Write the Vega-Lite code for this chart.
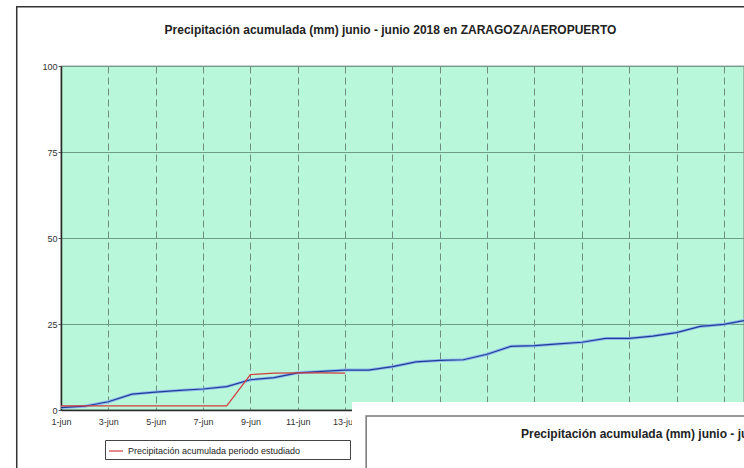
{
  "$schema": "https://vega.github.io/schema/vega-lite/v6.json",
  "width": 683,
  "height": 344,
  "autosize": {"type": "none"},
  "padding": {"left": 61, "top": 66, "right": 0, "bottom": 58},
  "background": "white",
  "config": {
    "font": "Liberation Sans",
    "view": {"fill": "#b8f7d9", "stroke": "#4a4a4a", "strokeWidth": 1.2}
  },
  "title": {
    "text": "Precipitación acumulada (mm) junio - junio 2018 en ZARAGOZA/AEROPUERTO",
    "font": "Liberation Sans",
    "fontSize": 12,
    "fontWeight": "bold",
    "color": "#222222",
    "anchor": "middle",
    "frame": "group",
    "dx": -12,
    "dy": 13,
    "baseline": "alphabetic",
    "offset": -27
  },
  "datasets": {
    "serie": [
      {"day": 1, "value": 0.7, "serie": "media"},
      {"day": 2, "value": 1.1, "serie": "media"},
      {"day": 3, "value": 2.4, "serie": "media"},
      {"day": 4, "value": 4.6, "serie": "media"},
      {"day": 5, "value": 5.2, "serie": "media"},
      {"day": 6, "value": 5.7, "serie": "media"},
      {"day": 7, "value": 6.1, "serie": "media"},
      {"day": 8, "value": 6.8, "serie": "media"},
      {"day": 9, "value": 8.8, "serie": "media"},
      {"day": 10, "value": 9.4, "serie": "media"},
      {"day": 11, "value": 10.8, "serie": "media"},
      {"day": 12, "value": 11.2, "serie": "media"},
      {"day": 13, "value": 11.6, "serie": "media"},
      {"day": 14, "value": 11.6, "serie": "media"},
      {"day": 15, "value": 12.6, "serie": "media"},
      {"day": 16, "value": 14.0, "serie": "media"},
      {"day": 17, "value": 14.4, "serie": "media"},
      {"day": 18, "value": 14.6, "serie": "media"},
      {"day": 19, "value": 16.2, "serie": "media"},
      {"day": 20, "value": 18.5, "serie": "media"},
      {"day": 21, "value": 18.7, "serie": "media"},
      {"day": 22, "value": 19.2, "serie": "media"},
      {"day": 23, "value": 19.7, "serie": "media"},
      {"day": 24, "value": 20.8, "serie": "media"},
      {"day": 25, "value": 20.8, "serie": "media"},
      {"day": 26, "value": 21.5, "serie": "media"},
      {"day": 27, "value": 22.5, "serie": "media"},
      {"day": 28, "value": 24.3, "serie": "media"},
      {"day": 29, "value": 24.9, "serie": "media"},
      {"day": 30, "value": 26.2, "serie": "media"}
    ],
    "estudiado": [
      {"day": 1, "value": 1.2, "serie": "Precipitación acumulada periodo estudiado"},
      {"day": 2, "value": 1.2, "serie": "Precipitación acumulada periodo estudiado"},
      {"day": 3, "value": 1.2, "serie": "Precipitación acumulada periodo estudiado"},
      {"day": 4, "value": 1.2, "serie": "Precipitación acumulada periodo estudiado"},
      {"day": 5, "value": 1.2, "serie": "Precipitación acumulada periodo estudiado"},
      {"day": 6, "value": 1.2, "serie": "Precipitación acumulada periodo estudiado"},
      {"day": 7, "value": 1.2, "serie": "Precipitación acumulada periodo estudiado"},
      {"day": 8, "value": 1.2, "serie": "Precipitación acumulada periodo estudiado"},
      {"day": 9, "value": 10.3, "serie": "Precipitación acumulada periodo estudiado"},
      {"day": 10, "value": 10.7, "serie": "Precipitación acumulada periodo estudiado"},
      {"day": 11, "value": 10.8, "serie": "Precipitación acumulada periodo estudiado"},
      {"day": 12, "value": 10.8, "serie": "Precipitación acumulada periodo estudiado"},
      {"day": 13, "value": 10.7, "serie": "Precipitación acumulada periodo estudiado"}
    ],
    "marco": [
      {"day": -0.87, "day2": 40, "value": 117.2, "value2": -40}
    ],
    "captura": [
      {"day": 13.29, "day2": 40, "value": 2.33, "value2": -40}
    ],
    "captura_marco": [
      {"day": 13.89, "day2": 40, "value": -1.74, "value2": -40}
    ],
    "captura_titulo": [
      {"day": 20.43, "value": -8.1, "texto": "Precipitación acumulada (mm) junio - junio 2018 en ZARAGOZA/AEROPUERTO"}
    ]
  },
  "encoding": {
    "x": {
      "field": "day",
      "type": "quantitative",
      "scale": {"domain": [1, 29.85], "nice": false, "zero": false},
      "axis": {
        "title": null,
        "values": [1, 3, 5, 7, 9, 11, 13, 15, 17, 19, 21, 23, 25, 27, 29],
        "labelExpr": "datum.value + '-jun'",
        "labelFontSize": 9,
        "labelColor": "#333333",
        "labelPadding": 7,
        "labelFlush": false,
        "tickSize": 0,
        "domainColor": "#2a2a2a",
        "domainWidth": 1.5,
        "grid": true,
        "gridDash": [7, 4],
        "gridColor": "#6f8c80",
        "gridWidth": 1
      }
    },
    "y": {
      "field": "value",
      "type": "quantitative",
      "scale": {"domain": [0, 100], "nice": false},
      "axis": {
        "title": null,
        "values": [0, 25, 50, 75, 100],
        "labelFontSize": 9,
        "labelColor": "#333333",
        "labelPadding": 1,
        "tickSize": 3,
        "tickColor": "#555555",
        "domainColor": "#2a2a2a",
        "domainWidth": 1.5,
        "grid": true,
        "gridColor": "#6e9c84",
        "gridWidth": 1
      }
    }
  },
  "layer": [
    {
      "data": {"name": "marco"},
      "mark": {"type": "rect", "fill": null, "stroke": "#333333", "strokeWidth": 1.5},
      "encoding": {"x2": {"field": "day2"}, "y2": {"field": "value2"}}
    },
    {
      "data": {"name": "serie"},
      "mark": {"type": "line", "color": "#8fb8f0", "strokeWidth": 3},
      "encoding": {}
    },
    {
      "data": {"name": "serie"},
      "mark": {"type": "line", "color": "#1f3f95", "strokeWidth": 1.2},
      "encoding": {}
    },
    {
      "data": {"name": "estudiado"},
      "mark": {"type": "line", "strokeWidth": 1.2},
      "encoding": {
        "color": {
          "field": "serie",
          "type": "nominal",
          "scale": {"range": ["#d23c3c"]},
          "legend": {
            "orient": "none",
            "legendX": 44,
            "legendY": 374,
            "direction": "horizontal",
            "fillColor": "white",
            "strokeColor": "#444444",
            "padding": 3,
            "symbolType": "stroke",
            "symbolSize": 196,
            "symbolStrokeWidth": 1.2,
            "labelFontSize": 9,
            "labelLimit": 400,
            "labelColor": "#222222",
            "labelOffset": 4,
            "title": ".",
            "titleOrient": "right",
            "titleOpacity": 0,
            "titleFontSize": 9,
            "titlePadding": 44
          }
        }
      }
    },
    {
      "data": {"name": "captura"},
      "mark": {"type": "rect", "fill": "white", "stroke": null},
      "encoding": {"x2": {"field": "day2"}, "y2": {"field": "value2"}}
    },
    {
      "data": {"name": "captura_marco"},
      "mark": {"type": "rect", "fill": null, "stroke": "#777777", "strokeWidth": 1.5},
      "encoding": {"x2": {"field": "day2"}, "y2": {"field": "value2"}}
    },
    {
      "data": {"name": "captura_titulo"},
      "mark": {"type": "text", "align": "left", "baseline": "alphabetic", "fontSize": 12, "fontWeight": "bold", "color": "#222222"},
      "encoding": {"text": {"field": "texto"}}
    }
  ]
}
